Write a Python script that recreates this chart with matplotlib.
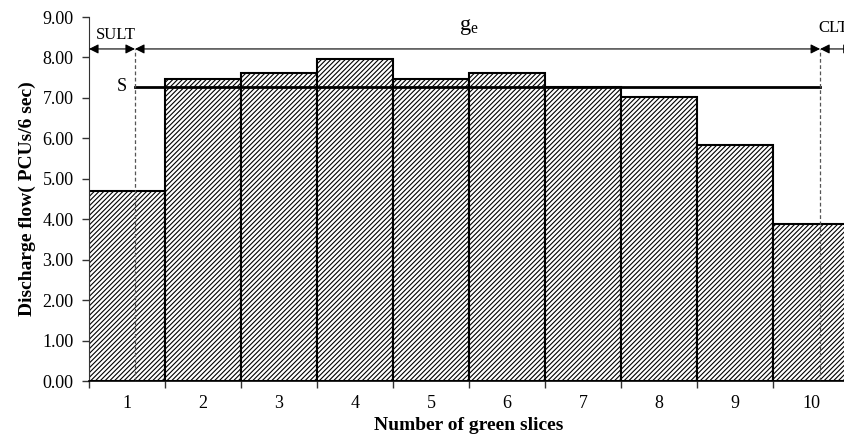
import matplotlib
matplotlib.use("Agg")
import matplotlib.pyplot as plt
import numpy as np

# =========================
# Data
# =========================
slices = [1, 2, 3, 4, 5, 6, 7, 8, 9, 10]
discharge = [4.70, 7.47, 7.61, 7.95, 7.46, 7.61, 7.28, 7.03, 5.84, 3.88]
saturation_flow = 7.28
sult_end = 1.105
clt_start = 10.12
arrow_level = 8.21

plt.rcParams['font.family'] = ['Liberation Serif', 'DejaVu Serif']
plt.rcParams['mathtext.fontset'] = 'custom'
plt.rcParams['mathtext.rm'] = 'Liberation Serif'
plt.rcParams['mathtext.it'] = 'Liberation Serif'
plt.rcParams['hatch.linewidth'] = 0.8
plt.rcParams['hatch.color'] = '#3a3a3a'

fig = plt.figure(figsize=(8.45, 4.42), dpi=100)
ax = fig.add_axes([89 / 845, 1 - 381 / 442, 760 / 845, 364 / 442])

# =========================
# Bars
# =========================
ax.bar(slices, discharge, width=1.0, color="white", edgecolor="black",
       linewidth=1.5, hatch="///////")

# Saturation flow line
ax.plot([sult_end, clt_start], [saturation_flow, saturation_flow],
        color="black", lw=2)
ax.text(sult_end - 0.11, saturation_flow, "S", ha="right", va="center",
        fontsize=13)

# Dashed boundaries
for xv in [sult_end, clt_start]:
    ax.plot([xv, xv], [0, arrow_level], color="#555555", lw=0.9,
            ls=(0, (3, 2)))

# Dimension arrows
arrow = dict(arrowstyle="<|-|>", color="black", lw=0.8,
             mutation_scale=14, shrinkA=0, shrinkB=0)
ax.annotate("", xy=(0.5, arrow_level), xytext=(sult_end, arrow_level),
            arrowprops=arrow, annotation_clip=False)
ax.annotate("", xy=(sult_end, arrow_level), xytext=(clt_start, arrow_level),
            arrowprops=arrow, annotation_clip=False)
ax.annotate("", xy=(clt_start, arrow_level), xytext=(10.55, arrow_level),
            arrowprops=arrow, annotation_clip=False)

ax.text((0.5 + sult_end) / 2 + 0.05, 8.56, "SULT", ha="center",
        va="center", fontsize=12)
ax.text(clt_start - 0.02, 8.72, "CLT", ha="left",
        va="center", fontsize=12)
ax.text(5.5, arrow_level + 0.3, r"$\mathregular{g_e}$", ha="center",
        va="bottom", fontsize=16)

# =========================
# Axes
# =========================
ax.set_xlim(0.5, 10.5)
ax.set_ylim(0, 9)
ax.set_yticks(np.arange(0, 10, 1))
ax.set_yticklabels([f"{v:.2f}" for v in range(10)], fontsize=13)
ax.set_xticks(np.arange(0.5, 11, 1))
ax.set_xticklabels([])
ax.set_xticks(slices, minor=True)
ax.set_xticklabels([str(s) for s in slices], minor=True, fontsize=13)
ax.tick_params(axis="x", which="minor", length=0, pad=10)
ax.tick_params(axis="y", which="major", pad=6)
ax.tick_params(axis="both", which="major", direction="out", length=5,
               width=1, color="#333333")

for side in ["top", "right"]:
    ax.spines[side].set_visible(False)
ax.spines["left"].set_color("#333333")
ax.spines["bottom"].set_linewidth(1.2)

ax.set_xlabel("Number of green slices", fontsize=14, fontweight="bold",
              labelpad=4)
ax.set_ylabel("Discharge flow( PCUs/6 sec)", fontsize=14,
              fontweight="bold", labelpad=5)

fig.savefig("out.png", dpi=100)
